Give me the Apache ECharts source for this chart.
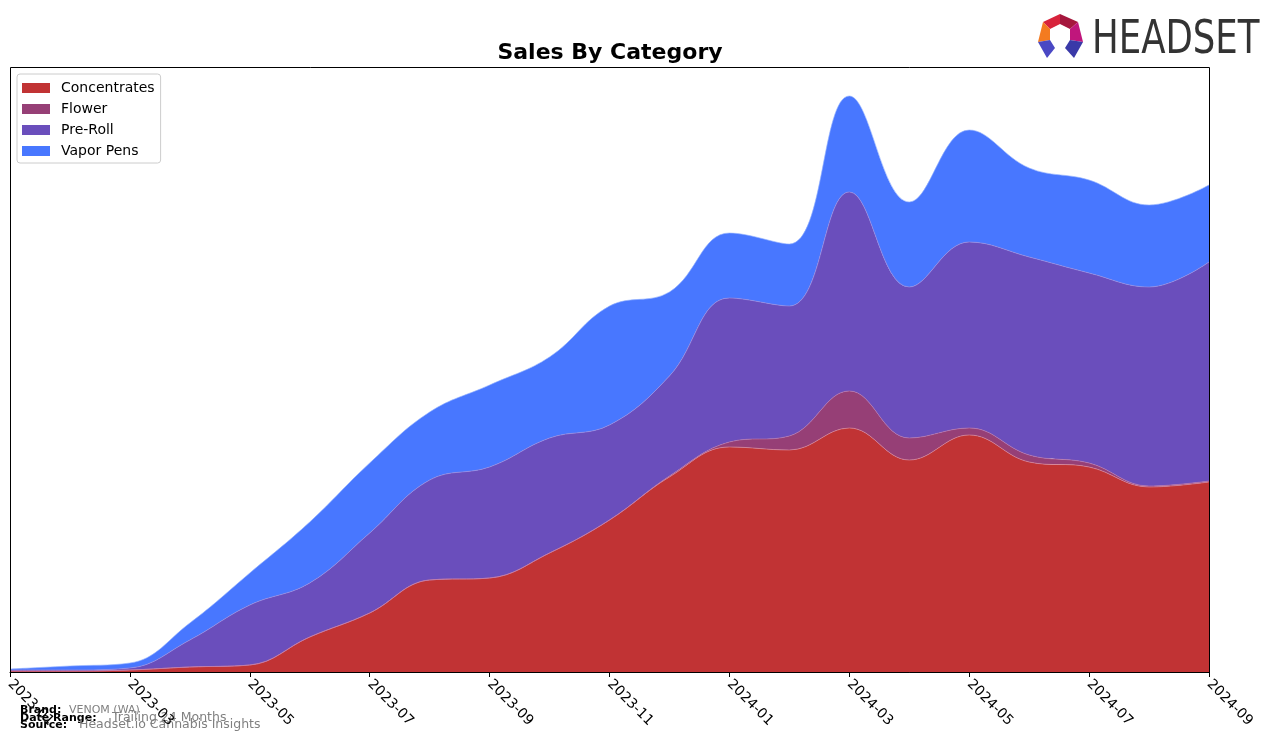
<!DOCTYPE html>
<html>
<head>
<meta charset="utf-8">
<script src="https://cdn.jsdelivr.net/npm/echarts@6/dist/echarts.min.js"></script>
<style>
html,body{margin:0;padding:0;background:#fff;}
#chart{width:1276px;height:743px;}
</style>
</head>
<body>
<div id="chart"></div>
<script>
const months = ['2023-01','2023-02','2023-03','2023-04','2023-05','2023-06','2023-07','2023-08','2023-09','2023-10','2023-11','2023-12','2024-01','2024-02','2024-03','2024-04','2024-05','2024-06','2024-07','2024-08','2024-09'];
const concentrates = [1,1,2,5,7,35,59,92,94,119,152,195,225,222,244,212,237,210,205,185,190];
const flower =       [0,0,0,0,0,0,0,0,0,0,0,1,5,14,37,22,7,7,4,1,1];
const preRoll =      [1,1,2,27,60,54,80,100,111,115,95,100,144,130,199,151,186,198,190,199,219];
const vaporPens =    [1,4,5,17,32,61,70,68,82,81,119,84,65,62,96,85,112,89,93,82,77];

const seriesNames = ['Concentrates','Flower','Pre-Roll','Vapor Pens'];
const seriesData = [concentrates, flower, preRoll, vaporPens];
const colors = ['#c13334','#963f76','#6a4ebc','#4877ff'];
const edgeColors = ['rgba(220,140,160,0.8)','rgba(190,120,170,0.8)','rgba(160,140,220,0.8)','rgba(150,180,255,0.8)'];

const FONT = 'DejaVu Sans';
const chart = echarts.init(document.getElementById('chart'));
chart.setOption({
  animation: false,
  textStyle: {fontFamily: FONT},
  grid: {left: 10, right: 67, top: 67, bottom: 71, containLabel: false},
  legend: {
    orient: 'vertical', left: 17, top: 74,
    data: seriesNames,
    icon: 'rect', itemWidth: 28, itemHeight: 10, itemGap: 7,
    padding: [7, 6, 5, 5],
    borderColor: '#cccccc', borderWidth: 1, borderRadius: 3,
    backgroundColor: 'rgba(255,255,255,0.8)',
    textStyle: {fontFamily: FONT, fontSize: 14, color: '#000', lineHeight: 14, padding: [0,0,0,6]}
  },
  xAxis: {
    type: 'category', data: months, boundaryGap: false,
    axisLine: {show: true, lineStyle: {color: '#000', width: 1}},
    axisTick: {show: true, interval: 1, length: 5, lineStyle: {color: '#000'}},
    axisLabel: {interval: 1, rotate: -45, fontSize: 14, color: '#000', margin: 10, fontFamily: FONT},
    splitLine: {show: false}
  },
  yAxis: {
    type: 'value', min: 0, max: 605, show: false, splitLine: {show: false}
  },
  series: seriesNames.map((name, i) => ({
    name: name, type: 'line', stack: 'total', data: seriesData[i],
    smooth: 0.4, symbol: 'none',
    itemStyle: {color: colors[i]},
    lineStyle: {width: 0.8, color: edgeColors[i]},
    areaStyle: {color: colors[i], opacity: 1}
  })),
  graphic: [
    {type: 'rect', z: 100, silent: true, shape: {x: 10.5, y: 67.5, width: 1199, height: 605},
     style: {fill: 'none', stroke: '#000', lineWidth: 1}},
    {type: 'text', x: 610, y: 53, style: {text: 'Sales By Category', font: 'bold 22px "DejaVu Sans"', fill: '#000', textAlign: 'center', textVerticalAlign: 'middle'}},
    {type: 'text', x: 20, y: 710, style: {text: 'Brand:', font: 'bold 11px "DejaVu Sans"', fill: '#000', textVerticalAlign: 'middle'}},
    {type: 'text', x: 69, y: 710, style: {text: 'VENOM (WA)', font: '11px "DejaVu Sans"', fill: '#808080', textVerticalAlign: 'middle'}},
    {type: 'text', x: 20, y: 718, style: {text: 'Date Range:', font: 'bold 11px "DejaVu Sans"', fill: '#000', textVerticalAlign: 'middle'}},
    {type: 'text', x: 112, y: 718, style: {text: 'Trailing 24 Months', font: '12.5px "DejaVu Sans"', fill: '#808080', textVerticalAlign: 'middle'}},
    {type: 'text', x: 20, y: 725, style: {text: 'Source:', font: 'bold 11px "DejaVu Sans"', fill: '#000', textVerticalAlign: 'middle'}},
    {type: 'text', x: 79, y: 725, style: {text: 'Headset.io Cannabis Insights', font: '12.5px "DejaVu Sans"', fill: '#808080', textVerticalAlign: 'middle'}},
    {type: 'polygon', shape: {points: [[1043,22],[1060,14],[1060,24],[1050,29]]}, style: {fill: '#d8233c'}},
    {type: 'polygon', shape: {points: [[1060,14],[1078,22],[1070,29],[1060,24]]}, style: {fill: '#a5173d'}},
    {type: 'polygon', shape: {points: [[1043,22],[1050,29],[1050,40],[1038,42]]}, style: {fill: '#f47b20'}},
    {type: 'polygon', shape: {points: [[1078,22],[1083,42],[1070,40],[1070,29]]}, style: {fill: '#c0167c'}},
    {type: 'polygon', shape: {points: [[1038,42],[1050,40],[1055,48],[1047,58]]}, style: {fill: '#4a48c4'}},
    {type: 'polygon', shape: {points: [[1070,40],[1083,42],[1074,58],[1065,48]]}, style: {fill: '#3a39a8'}},
    {type: 'text', x: 1092, y: 41, scaleX: 0.84, style: {text: 'HEADSET', font: '47px "Liberation Sans Narrow", "DejaVu Sans Condensed", sans-serif', fill: '#333333', textVerticalAlign: 'middle'}}
  ]
});
</script>
</body>
</html>
